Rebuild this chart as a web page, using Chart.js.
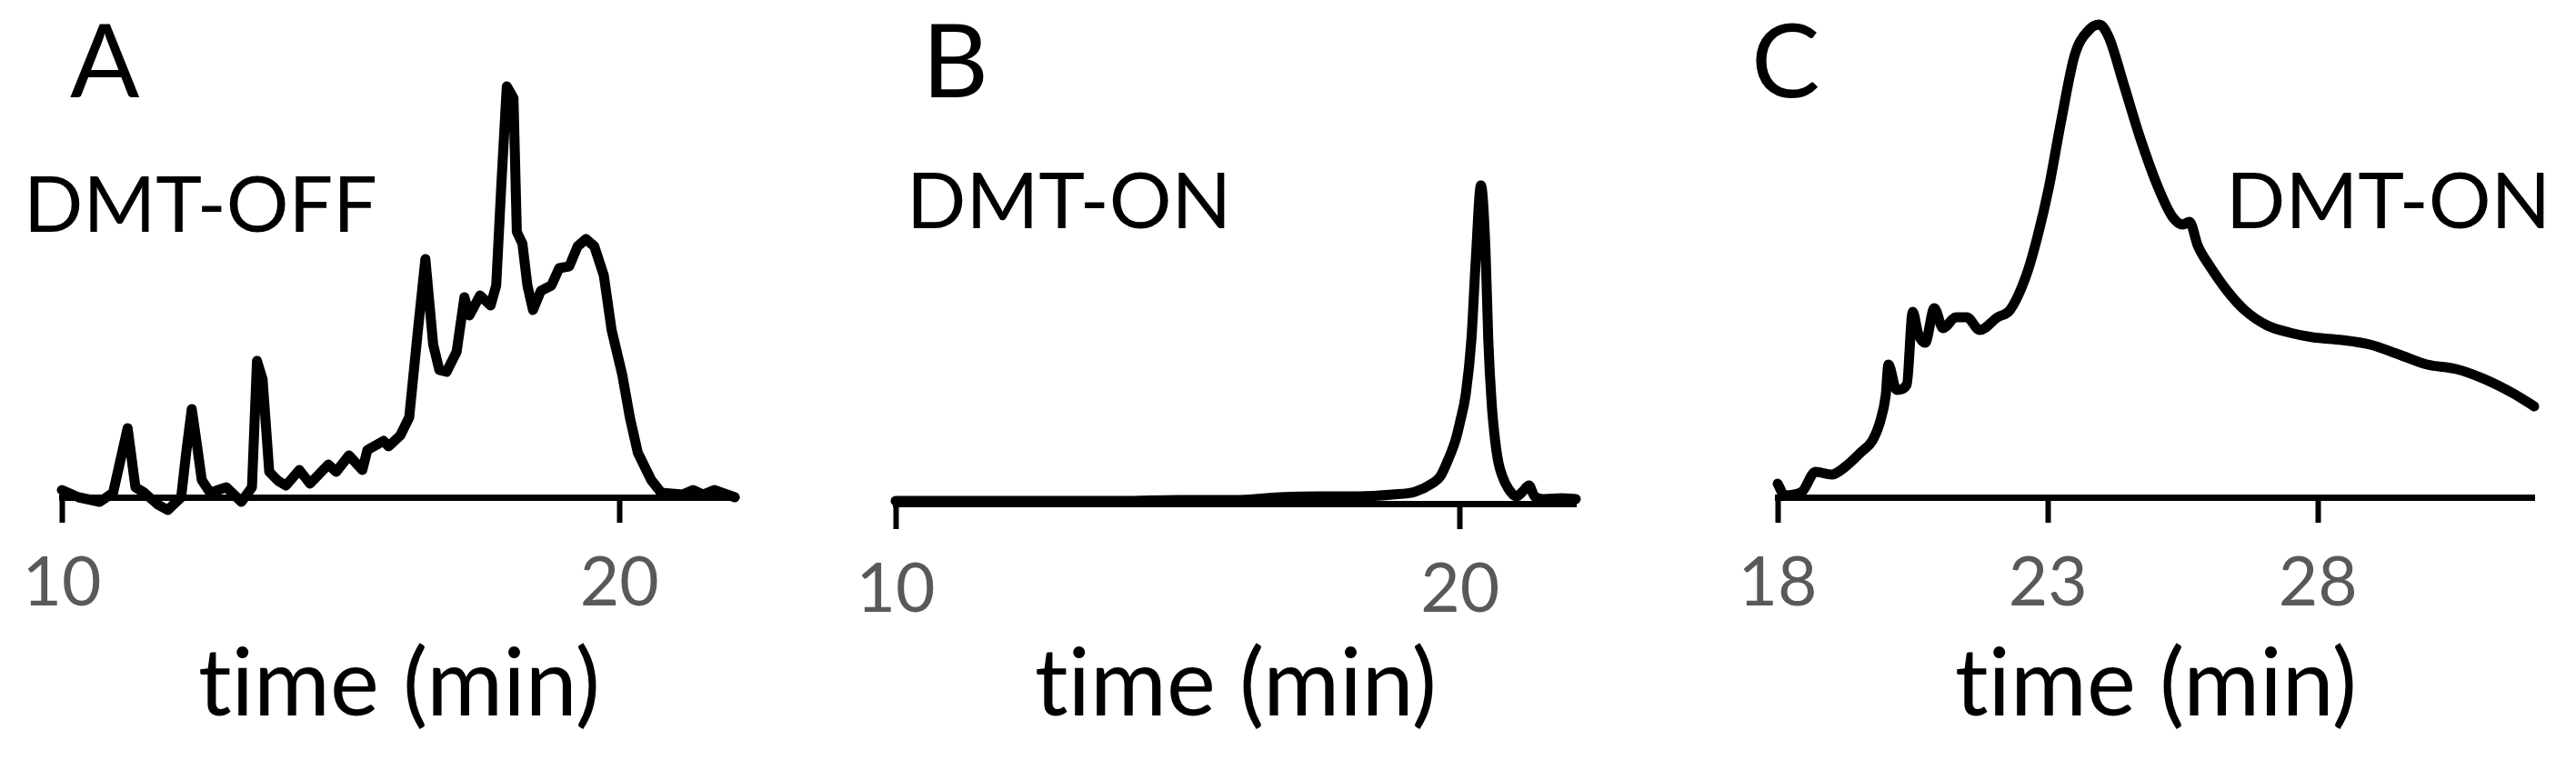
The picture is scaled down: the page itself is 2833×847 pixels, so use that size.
<!DOCTYPE html>
<html>
<head>
<meta charset="utf-8">
<script src="https://cdn.jsdelivr.net/npm/chart.js@4"></script>
<style>
  html, body { margin: 0; padding: 0; background: #fff; }
  #wrap { position: relative; width: 2833px; height: 847px; }
  canvas { position: absolute; top: 0; }
</style>
</head>
<body>
<div id="wrap">
  <canvas id="chartA" width="900" height="847" style="left:0px"></canvas>
  <canvas id="chartB" width="900" height="847" style="left:900px"></canvas>
  <canvas id="chartC" width="1033" height="847" style="left:1800px"></canvas>
</div>
<script>
// panel A, DMT-OFF crude (time in min, signal in arbitrary units)
const timeA = [10.0, 10.3, 10.68, 10.92, 11.18, 11.32, 11.48, 11.72, 11.9, 12.14,
  12.23, 12.33, 12.42, 12.51, 12.66, 12.95, 13.22, 13.41, 13.5, 13.6,
  13.72, 13.88, 14.02, 14.26, 14.45, 14.78, 14.92, 15.15, 15.39, 15.48,
  15.77, 15.86, 16.07, 16.23, 16.38, 16.52, 16.66, 16.77, 16.9, 17.08,
  17.22, 17.31, 17.5, 17.69, 17.79, 17.88, 17.98, 18.1, 18.16, 18.26,
  18.35, 18.45, 18.59, 18.78, 18.92, 19.1, 19.25, 19.4, 19.55, 19.72,
  19.86, 20.05, 20.19, 20.33, 20.57, 20.75, 21.13, 21.32, 21.5, 21.7, 22.07];
const signalA = [8, 0, -5, 5, 76, 11, 5, -8, -14, 0,
  49, 97, 59, 19, 5, 11, -5, 11, 150, 130,
  28, 18, 13, 30, 15, 36, 28, 46, 30, 52,
  62, 56, 68, 88, 180, 262, 168, 140, 138, 160,
  220, 200, 222, 211, 233, 341, 452, 439, 292, 279,
  233, 206, 227, 233, 252, 254, 276, 284, 276, 244,
  184, 135, 87, 49, 19, 5, 3, 8, 3, 8, 0];

// panel B, DMT-ON crude
const timeB = [10.0, 11.0, 12.0, 13.0, 14.0, 15.0, 16.0, 16.8, 17.5, 18.2,
  18.8, 19.2, 19.5, 19.65, 19.8, 19.92, 20.0, 20.1, 20.2, 20.28,
  20.37, 20.45, 20.5, 20.56, 20.62, 20.68, 20.75, 20.85, 21.0, 21.12,
  21.22, 21.32, 21.5, 21.8, 22.05];
const signalB = [3, 3, 3, 3, 3, 4, 4, 7, 8, 8,
  10, 13, 22, 30, 50, 70, 90, 120, 180, 270,
  350, 280, 180, 110, 70, 45, 30, 17, 8, 14,
  20, 8, 5, 6, 5];

// panel C, DMT-ON zoomed
const timeC = [18.0, 18.13, 18.45, 18.7, 19.0, 19.26, 19.55, 19.75, 19.9, 20.0,
  20.05, 20.2, 20.39, 20.5, 20.6, 20.73, 20.9, 21.06, 21.3, 21.5,
  21.74, 22.07, 22.3, 22.6, 22.81, 23.02, 23.24, 23.5, 23.76, 23.95,
  24.13, 24.4, 24.71, 25.04, 25.3, 25.5, 25.62, 25.78, 26.0, 26.32,
  26.64, 27.06, 27.48, 27.9, 28.44, 28.96, 29.5, 30.02, 30.56, 31.08,
  31.62, 32.0];
const signalC = [15, 2, 6, 28, 25, 34, 50, 62, 84, 112,
  146, 118, 124, 204, 180, 170, 208, 186, 198, 198,
  184, 198, 206, 244, 287, 341, 412, 487, 514, 520,
  506, 455, 395, 341, 309, 300, 303, 276, 254, 227,
  206, 189, 181, 176, 173, 168, 157, 146, 141, 130,
  114, 100];

const ticksA = [10, 20];
const ticksB = [10, 20];
const ticksC = [18, 23, 28];

const FONT = 'Lato, "Open Sans", sans-serif';
// zero-width non-joiner keeps Lato from fusing "ti"
const AXIS_TITLE = 't\u200Cime (min)';

// panel letter + sample label
const panelText = {
  id: 'panelText',
  afterDraw(chart, args, opts) {
    const ctx = chart.ctx;
    ctx.save();
    ctx.fillStyle = '#000';
    ctx.textBaseline = 'alphabetic';
    ctx.textAlign = 'left';
    ctx.font = '113px ' + FONT;
    ctx.fillText(opts.letter, opts.letterX, 107);
    ctx.font = '86px ' + FONT;
    ctx.fillText(opts.label, opts.labelX, opts.labelY);
    ctx.restore();
  }
};

function makeChart(id, times, values, cfg) {
  const points = times.map((t, i) => ({ x: t, y: values[i] }));
  return new Chart(document.getElementById(id), {
    type: 'line',
    data: {
      datasets: [{
        data: points,
        borderColor: '#000',
        borderWidth: 11,
        pointRadius: 0,
        tension: 0,
        cubicInterpolationMode: cfg.curve,
        borderJoinStyle: 'round',
        borderCapStyle: 'round',
        fill: false,
        clip: false,
      }],
    },
    plugins: [panelText],
    options: {
      responsive: false,
      animation: false,
      devicePixelRatio: 1,
      layout: { padding: { left: cfg.padLeft, right: cfg.padRight, top: 20, bottom: 0 } },
      plugins: {
        legend: { display: false },
        tooltip: { enabled: false },
        panelText: cfg.text,
      },
      scales: {
        x: {
          type: 'linear',
          min: cfg.min,
          max: cfg.max,
          afterBuildTicks: (s) => { s.ticks = cfg.ticks.map((v) => ({ value: v })); },
          afterFit: (s) => { s.height = cfg.axisHeight; },
          grid: {
            drawOnChartArea: false,
            drawTicks: true,
            tickLength: 28,
            tickWidth: 6,
            tickColor: '#000',
          },
          border: { display: true, color: '#000', width: 7 },
          ticks: {
            font: { family: FONT, size: 75 },
            color: '#595959',
            padding: 22,
            maxRotation: 0,
            autoSkip: false,
          },
          title: {
            display: true,
            text: AXIS_TITLE,
            font: { family: FONT, size: 102 },
            color: '#000',
            padding: { top: 0, bottom: 32 },
          },
        },
        y: { display: false, min: 0, max: cfg.yMax },
      },
    },
  });
}

makeChart('chartA', timeA, signalA, {
  min: 10, max: 22.1, ticks: ticksA, padLeft: 68, padRight: 90,
  axisHeight: 300, yMax: 527, curve: 'default',
  text: { letter: 'A', letterX: 77, label: 'DMT-OFF', labelX: 26, labelY: 255 },
});

makeChart('chartB', timeB, signalB, {
  min: 10, max: 22.05, ticks: ticksB, padLeft: 85, padRight: 67,
  axisHeight: 293, yMax: 534, curve: 'monotone',
  text: { letter: 'B', letterX: 114, label: 'DMT-ON', labelX: 97, labelY: 251 },
});

makeChart('chartC', timeC, signalC, {
  min: 18, max: 32, ticks: ticksC, padLeft: 155, padRight: 46,
  axisHeight: 300, yMax: 527, curve: 'monotone',
  text: { letter: 'C', letterX: 126, label: 'DMT-ON', labelX: 648, labelY: 251 },
});
</script>
</body>
</html>
